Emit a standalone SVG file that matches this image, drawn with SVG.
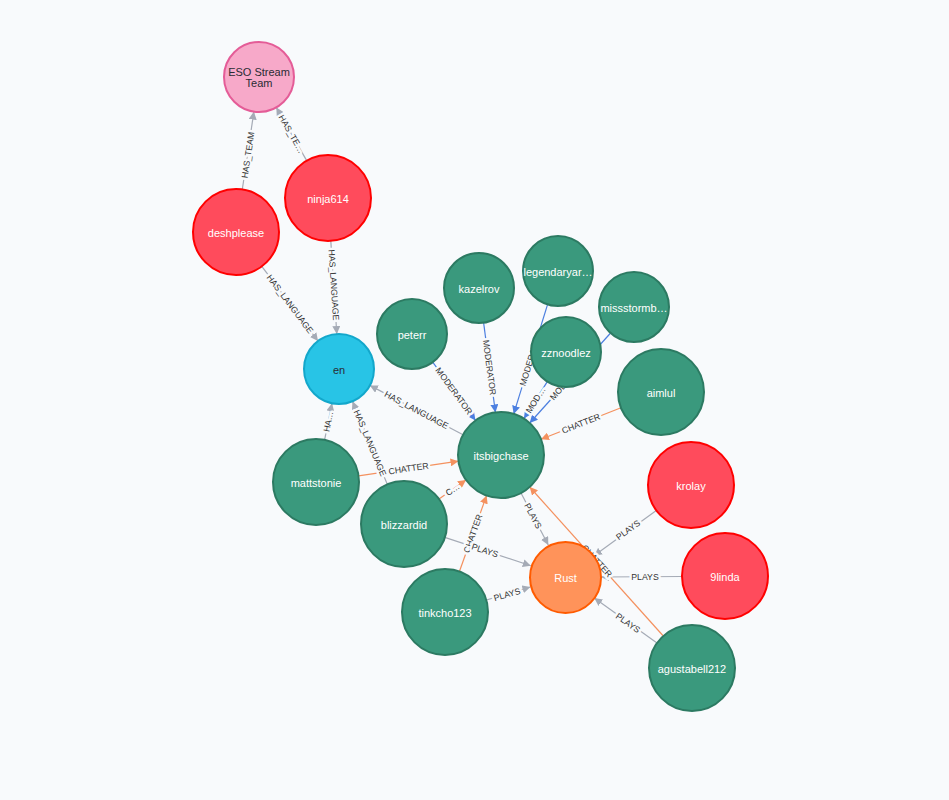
<svg xmlns="http://www.w3.org/2000/svg" width="949" height="800" viewBox="0 0 949 800">
<style>
.bg{fill:#f8fafc}
.e{fill:none;stroke-width:1.2}
.g{stroke:#a5abb6}
.b{stroke:#4c7fe0}
.o{stroke:#f4915f}
.lbl{font-family:"Liberation Sans",Arial,sans-serif;font-size:8.7px;fill:#333;text-anchor:middle;dominant-baseline:central;stroke:#f8fafc;stroke-width:5px;paint-order:stroke;stroke-linejoin:round}
.nt{font-family:"Liberation Sans",Arial,sans-serif;font-size:11px;text-anchor:middle;dominant-baseline:central}
.w{fill:#ffffff}
.d{fill:#2a2c34}
.grn{fill:#3a997d;stroke:#2c7a62;stroke-width:2}
.red{fill:#ff4b5c;stroke:#ff0000;stroke-width:2}
.pink{fill:#f7a9c9;stroke:#e45c97;stroke-width:2}
.cyan{fill:#28c4e6;stroke:#13a7cb;stroke-width:2}
.org{fill:#ff935a;stroke:#ff5b00;stroke-width:2}
</style>
<defs>
<marker id="ag" viewBox="0 0 10 10" refX="10" refY="5" markerWidth="8" markerHeight="8" markerUnits="userSpaceOnUse" orient="auto"><path d="M0,0 L10,5 L0,10 z" fill="#a5abb6"/></marker>
<marker id="ab" viewBox="0 0 10 10" refX="10" refY="5" markerWidth="8" markerHeight="8" markerUnits="userSpaceOnUse" orient="auto"><path d="M0,0 L10,5 L0,10 z" fill="#4c7fe0"/></marker>
<marker id="ao" viewBox="0 0 10 10" refX="10" refY="5" markerWidth="8" markerHeight="8" markerUnits="userSpaceOnUse" orient="auto"><path d="M0,0 L10,5 L0,10 z" fill="#f4915f"/></marker>
</defs>
<rect class="bg" x="0" y="0" width="949" height="800"/>
<g id="connectors">
<line class="e g" x1="242.3" y1="189.5" x2="253.9" y2="111.6" marker-end="url(#ag)"/>
<line class="e g" x1="306.7" y1="160.6" x2="276.3" y2="107.4" marker-end="url(#ag)"/>
<line class="e g" x1="261.8" y1="266.4" x2="318" y2="341" marker-end="url(#ag)"/>
<line class="e g" x1="330.8" y1="240.9" x2="336.8" y2="334.1" marker-end="url(#ag)"/>
<line class="e g" x1="463" y1="434.8" x2="369.9" y2="385.4" marker-end="url(#ag)"/>
<line class="e g" x1="324.6" y1="439.9" x2="332" y2="403.3" marker-end="url(#ag)"/>
<line class="e g" x1="387.4" y1="484.4" x2="352.5" y2="401.3" marker-end="url(#ag)"/>
<line class="e b" x1="432.7" y1="362.2" x2="475.5" y2="420.4" marker-end="url(#ab)"/>
<line class="e b" x1="483.6" y1="322.7" x2="495.4" y2="412.4" marker-end="url(#ab)"/>
<line class="e b" x1="547.6" y1="304.4" x2="513.7" y2="413.9" marker-end="url(#ab)"/>
<line class="e b" x1="547.3" y1="381.6" x2="524" y2="418.6" marker-end="url(#ab)"/>
<line class="e b" x1="610.6" y1="333" x2="529.7" y2="423" marker-end="url(#ab)"/>
<line class="e o" x1="621" y1="407.7" x2="541" y2="439.3" marker-end="url(#ao)"/>
<line class="e o" x1="358.5" y1="475.8" x2="458.5" y2="461.2" marker-end="url(#ao)"/>
<line class="e o" x1="439" y1="499" x2="466" y2="480" marker-end="url(#ao)"/>
<line class="e o" x1="459.4" y1="571.5" x2="486.6" y2="495.5" marker-end="url(#ao)"/>
<line class="e o" x1="663.3" y1="636" x2="529.7" y2="487" marker-end="url(#ao)"/>
<line class="e g" x1="521" y1="493" x2="548.3" y2="545" marker-end="url(#ag)"/>
<line class="e g" x1="444.8" y1="537.4" x2="530.8" y2="565.7" marker-end="url(#ag)"/>
<line class="e g" x1="486.3" y1="600" x2="530.4" y2="587" marker-end="url(#ag)"/>
<line class="e g" x1="656.3" y1="510.4" x2="594" y2="555.8" marker-end="url(#ag)"/>
<line class="e g" x1="682" y1="576.5" x2="601" y2="577" marker-end="url(#ag)"/>
<line class="e g" x1="657" y1="643" x2="594.3" y2="598" marker-end="url(#ag)"/>
<text class="lbl" transform="translate(248,155) rotate(-81.6)">HAS_TEAM</text>
<text class="lbl" transform="translate(291.5,134) rotate(60.3)">HAS_TE…</text>
<text class="lbl" transform="translate(290,304) rotate(53.1)">HAS_LANGUAGE</text>
<text class="lbl" transform="translate(333.8,285) rotate(86.3)">HAS_LANGUAGE</text>
<text class="lbl" transform="translate(416.5,410) rotate(28)">HAS_LANGUAGE</text>
<text class="lbl" transform="translate(328.3,421.6) rotate(-78.5)">HA…</text>
<text class="lbl" transform="translate(370,443) rotate(67.2)">HAS_LANGUAGE</text>
<text class="lbl" transform="translate(454,391) rotate(53.7)">MODERATOR</text>
<text class="lbl" transform="translate(489.5,367.5) rotate(82.5)">MODERATOR</text>
<text class="lbl" transform="translate(530.7,359) rotate(-72.8)">MODERATOR</text>
<text class="lbl" transform="translate(535.6,400) rotate(-57.7)">MOD…</text>
<text class="lbl" transform="translate(570,378) rotate(-48.1)">MODERATOR</text>
<text class="lbl" transform="translate(581,423.5) rotate(-21.5)">CHATTER</text>
<text class="lbl" transform="translate(408.5,468.5) rotate(-8.3)">CHATTER</text>
<text class="lbl" transform="translate(452.5,489.5) rotate(-35.4)">C…</text>
<text class="lbl" transform="translate(473,533.5) rotate(-70.4)">CHATTER</text>
<text class="lbl" transform="translate(597,561) rotate(48.1)">CHATTER</text>
<text class="lbl" transform="translate(533,516) rotate(62.3)">PLAYS</text>
<text class="lbl" transform="translate(485,550.5) rotate(18.2)">PLAYS</text>
<text class="lbl" transform="translate(507,594.5) rotate(-16.3)">PLAYS</text>
<text class="lbl" transform="translate(628,530) rotate(-36.1)">PLAYS</text>
<text class="lbl" transform="translate(645,577)">PLAYS</text>
<text class="lbl" transform="translate(628,623) rotate(35.6)">PLAYS</text>
</g>
<g id="eso"><circle class="pink" cx="259" cy="77" r="35"/><text class="nt d" x="259" y="72">ESO Stream</text><text class="nt d" x="259" y="83">Team</text></g>
<g id="deshplease"><circle class="red" cx="236" cy="232" r="43"/><text class="nt w" x="236" y="233">deshplease</text></g>
<g id="ninja614"><circle class="red" cx="328" cy="198" r="43"/><text class="nt w" x="328" y="199">ninja614</text></g>
<g id="en"><circle class="cyan" cx="339" cy="369" r="35"/><text class="nt d" x="339" y="370">en</text></g>
<g id="peterr"><circle class="grn" cx="412" cy="334" r="35"/><text class="nt w" x="412" y="335">peterr</text></g>
<g id="kazelrov"><circle class="grn" cx="479" cy="288" r="35"/><text class="nt w" x="479" y="289">kazelrov</text></g>
<g id="legendaryar"><circle class="grn" cx="558" cy="271" r="35"/><text class="nt w" x="558" y="272">legendaryar…</text></g>
<g id="missstormb"><circle class="grn" cx="634" cy="307" r="35"/><text class="nt w" x="634" y="308">missstormb…</text></g>
<g id="zznoodlez"><circle class="grn" cx="566" cy="352" r="35"/><text class="nt w" x="566" y="353">zznoodlez</text></g>
<g id="aimlul"><circle class="grn" cx="661" cy="392" r="43"/><text class="nt w" x="661" y="393">aimlul</text></g>
<g id="itsbigchase"><circle class="grn" cx="501" cy="455" r="43"/><text class="nt w" x="501" y="456">itsbigchase</text></g>
<g id="mattstonie"><circle class="grn" cx="316" cy="482" r="43"/><text class="nt w" x="316" y="483">mattstonie</text></g>
<g id="blizzardid"><circle class="grn" cx="404" cy="524" r="43"/><text class="nt w" x="404" y="525">blizzardid</text></g>
<g id="krolay"><circle class="red" cx="691" cy="485" r="43"/><text class="nt w" x="691" y="486">krolay</text></g>
<g id="9linda"><circle class="red" cx="725" cy="576" r="43"/><text class="nt w" x="725" y="577">9linda</text></g>
<g id="rust"><circle class="org" cx="565.5" cy="577.5" r="35.5"/><text class="nt w" x="565.5" y="578">Rust</text></g>
<g id="tinkcho123"><circle class="grn" cx="445" cy="612" r="43"/><text class="nt w" x="445" y="613">tinkcho123</text></g>
<g id="agustabell212"><circle class="grn" cx="692" cy="668" r="43"/><text class="nt w" x="692" y="669">agustabell212</text></g>
</svg>
